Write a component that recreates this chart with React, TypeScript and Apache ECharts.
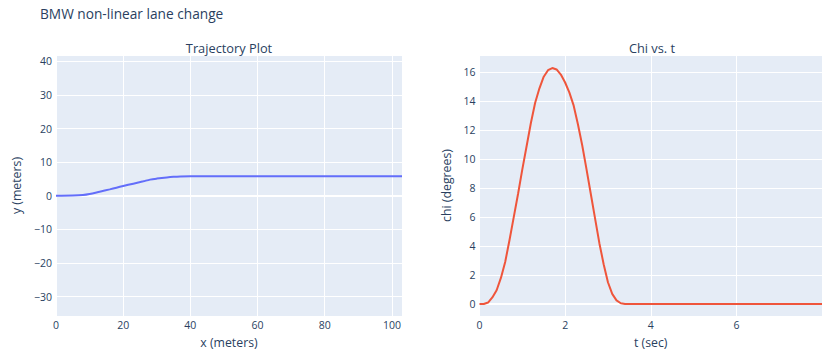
import React, { useEffect, useRef } from "react";
import * as echarts from "echarts";

const chartTitle = "BMW non-linear lane change";
const leftTitle = "Trajectory Plot";
const rightTitle = "Chi vs. t";

// Trajectory: x (meters) vs y (meters)
const trajX = [0, 5, 8, 10, 13, 16, 18, 20, 23, 26, 28, 30, 33, 35, 37, 40, 50, 60, 80, 103];
const trajY = [0, 0.05, 0.2, 0.5, 1.2, 1.9, 2.4, 2.9, 3.6, 4.3, 4.8, 5.1, 5.45, 5.62, 5.72, 5.78, 5.8, 5.8, 5.8, 5.8];

// Chi (degrees) vs t (sec)
const timeT = [
  0, 0.1, 0.2, 0.3, 0.4, 0.5, 0.6, 0.7, 0.8, 0.9, 1.0, 1.1, 1.2, 1.3, 1.4, 1.5, 1.6, 1.7, 1.8, 1.9,
  2.0, 2.1, 2.2, 2.3, 2.4, 2.5, 2.6, 2.7, 2.8, 2.9, 3.0, 3.1, 3.2, 3.3, 3.4, 8.0,
];
const chiDeg = [
  0, 0, 0.1, 0.45, 0.95, 1.8, 2.9, 4.4, 6.0, 7.6, 9.3, 10.9, 12.5, 13.9, 14.9, 15.7, 16.15, 16.3, 16.2, 15.85,
  15.3, 14.6, 13.7, 12.4, 10.95, 9.3, 7.6, 5.9, 4.2, 2.75, 1.5, 0.7, 0.25, 0.05, 0, 0,
];

const leftXTicks = [0, 20, 40, 60, 80, 100];
const leftYTicks = [-30, -20, -10, 0, 10, 20, 30, 40];
const rightXTicks = [0, 2, 4, 6];
const rightYTicks = [0, 2, 4, 6, 8, 10, 12, 14, 16];

const FONT = '"Open Sans", verdana, arial, sans-serif';
const TEXT = "#2a3f5f";
const BG = "#E5ECF6";

const fmt = (ticks: number[]) => (v: number) => {
  const hit = ticks.find((t) => Math.abs(t - v) < 1e-6);
  if (hit === undefined) return "";
  return String(hit).replace("-", "\u2212");
};

const zeroLine = {
  silent: true,
  symbol: "none",
  z: 1,
  label: { show: false },
  lineStyle: { color: "#ffffff", width: 2, type: "solid" },
  data: [{ yAxis: 0 }],
};

export default function App() {
  const ref = useRef<HTMLDivElement>(null);
  useEffect(() => {
    if (!ref.current) return;
    const chart = echarts.init(ref.current, undefined, { renderer: "svg" });
    const axisCommon = {
      axisLine: { show: false },
      axisTick: { show: false },
      splitLine: { show: true, lineStyle: { color: "#ffffff", width: 1 } },
      nameTextStyle: { color: TEXT, fontFamily: FONT, fontSize: 12.3 },
    };
    const labelCommon = { color: TEXT, fontFamily: FONT, fontSize: 10.5 };
    chart.setOption({
      animation: false,
      backgroundColor: "#ffffff",
      title: [
        {
          text: chartTitle,
          left: 35,
          top: 1,
          textAlign: "left",
          textStyle: { color: TEXT, fontFamily: FONT, fontSize: 13.7, fontWeight: "normal" },
        },
        {
          text: leftTitle,
          left: 224,
          top: 36,
          textAlign: "center",
          textStyle: { color: TEXT, fontFamily: FONT, fontSize: 12.8, fontWeight: "normal" },
        },
        {
          text: rightTitle,
          left: 647,
          top: 36,
          textAlign: "center",
          textStyle: { color: TEXT, fontFamily: FONT, fontSize: 12.8, fontWeight: "normal" },
        },
      ],
      grid: [
        { left: 56, top: 55, width: 346, height: 261, show: true, backgroundColor: BG, borderWidth: 0 },
        { left: 479.5, top: 55, width: 346, height: 261, show: true, backgroundColor: BG, borderWidth: 0 },
      ],
      xAxis: [
        {
          ...axisCommon,
          gridIndex: 0,
          type: "value",
          min: 0,
          max: 103,
          interval: 20,
          name: "x (meters)",
          nameLocation: "middle",
          nameGap: 20,
          axisLabel: { ...labelCommon, margin: 3, formatter: fmt(leftXTicks), showMaxLabel: false },
        },
        {
          ...axisCommon,
          gridIndex: 1,
          type: "value",
          min: 0,
          max: 8,
          interval: 2,
          name: "t (sec)",
          nameLocation: "middle",
          nameGap: 20,
          axisLabel: { ...labelCommon, margin: 3, formatter: fmt(rightXTicks), showMaxLabel: false },
        },
      ],
      yAxis: [
        {
          ...axisCommon,
          gridIndex: 0,
          type: "value",
          min: -35.8,
          max: 41.9,
          minInterval: 10,
          maxInterval: 10,
          name: "y (meters)",
          nameLocation: "middle",
          nameGap: 34,
          axisLabel: { ...labelCommon, margin: 4, formatter: fmt(leftYTicks) },
        },
        {
          ...axisCommon,
          gridIndex: 1,
          type: "value",
          min: -0.83,
          max: 17.2,
          minInterval: 2,
          maxInterval: 2,
          name: "chi (degrees)",
          nameLocation: "middle",
          nameGap: 27,
          axisLabel: { ...labelCommon, margin: 4, formatter: fmt(rightYTicks) },
        },
      ],
      series: [
        {
          type: "line",
          xAxisIndex: 0,
          yAxisIndex: 0,
          data: trajX.map((x, i) => [x, trajY[i]]),
          showSymbol: false,
          smooth: 0.3,
          lineStyle: { color: "#636efa", width: 2 },
          itemStyle: { color: "#636efa" },
          z: 3,
          markLine: zeroLine,
        },
        {
          type: "line",
          xAxisIndex: 1,
          yAxisIndex: 1,
          data: timeT.map((t, i) => [t, chiDeg[i]]),
          showSymbol: false,
          lineStyle: { color: "#EF553B", width: 2 },
          itemStyle: { color: "#EF553B" },
          z: 3,
          markLine: zeroLine,
        },
      ],
    });
    return () => chart.dispose();
  }, []);
  return (
    <div
      ref={ref}
      style={{ position: "fixed", left: 0, top: 0, width: 822, height: 354, overflow: "hidden" }}
    />
  );
}
